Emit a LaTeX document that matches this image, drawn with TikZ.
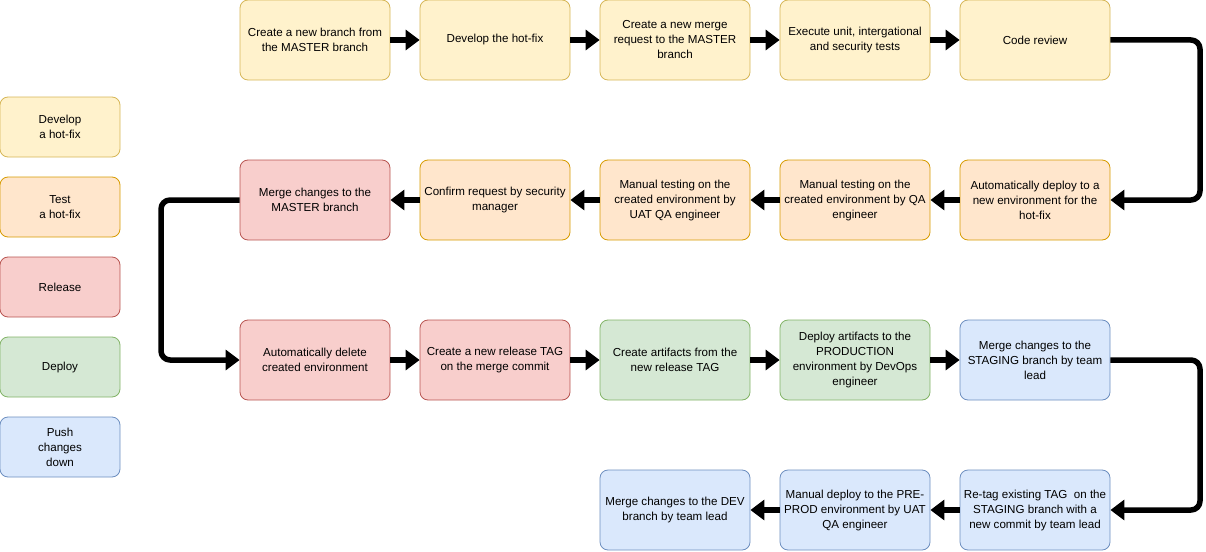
\documentclass[tikz,border=0pt]{standalone}
\usepackage{fontspec}
\setmainfont{Liberation Sans}
\usetikzlibrary{arrows.meta}
\definecolor{ylwF}{HTML}{FFF2CC}\definecolor{ylwD}{HTML}{D6B656}
\definecolor{orgF}{HTML}{FFE6CC}\definecolor{orgD}{HTML}{D79B00}
\definecolor{redF}{HTML}{F8CECC}\definecolor{redD}{HTML}{B85450}
\definecolor{grnF}{HTML}{D5E8D4}\definecolor{grnD}{HTML}{82B366}
\definecolor{bluF}{HTML}{DAE8FC}\definecolor{bluD}{HTML}{6C8EBF}
\begin{document}
\begin{tikzpicture}[x=1pt,y=-1pt,line join=round,
	box/.style={rounded corners=8pt,line width=0.8pt,minimum width=150pt,minimum height=80pt,
		inner sep=0pt,align=center,font=\fontsize{11.6}{15}\selectfont},
	leg/.style={box,minimum width=120pt,minimum height=60pt},
	ylw/.style={fill=ylwF,draw=ylwD}, org/.style={fill=orgF,draw=orgD},
	red/.style={fill=redF,draw=redD}, grn/.style={fill=grnF,draw=grnD},
	blu/.style={fill=bluF,draw=bluD},
	conn/.style={line width=5.5pt,rounded corners=9pt,-{Triangle[length=14pt,width=20pt]}}]
	\useasboundingbox (0,0) rectangle (1206,551);
	\def\rA{40} \def\rB{200} \def\rC{360} \def\rD{510}
	\def\turn{1200} \def\back{161}
	% legend
	\node[leg,ylw] (lg1) at (60,127) {Develop\\a hot-fix};
	\node[leg,org] (lg2) at (60,207) {Test\\a hot-fix};
	\node[leg,red] (lg3) at (60,287) {Release};
	\node[leg,grn] (lg4) at (60,367) {Deploy};
	\node[leg,blu] (lg5) at (60,447) {Push\\changes\\down};
	% row 1
	\node[box,ylw] (a1) at (315,\rA) {Create a new branch from\\the MASTER branch};
	\node[box,ylw] (a2) at (495,\rA) {Develop the hot-fix};
	\node[box,ylw] (a3) at (675,\rA) {Create a new merge\\request to the MASTER\\branch};
	\node[box,ylw] (a4) at (855,\rA) {Execute unit, intergational\\and security tests};
	\node[box,ylw] (a5) at (1035,\rA) {Code review};
	% row 2
	\node[box,org] (b1) at (1035,\rB) {Automatically deploy to a\\new environment for the\\hot-fix};
	\node[box,org] (b2) at (855,\rB) {Manual testing on the\\created environment by QA\\engineer};
	\node[box,org] (b3) at (675,\rB) {Manual testing on the\\created environment by\\UAT QA engineer};
	\node[box,org] (b4) at (495,\rB) {Confirm request by security\\manager};
	\node[box,red] (b5) at (315,\rB) {Merge changes to the\\MASTER branch};
	% row 3
	\node[box,red] (c1) at (315,\rC) {Automatically delete\\created environment};
	\node[box,red] (c2) at (495,\rC) {Create a new release TAG\\on the merge commit};
	\node[box,grn] (c3) at (675,\rC) {Create artifacts from the\\new release TAG};
	\node[box,grn] (c4) at (855,\rC) {Deploy artifacts to the\\PRODUCTION\\environment by DevOps\\engineer};
	\node[box,blu] (c5) at (1035,\rC) {Merge changes to the\\STAGING branch by team\\lead};
	% row 4
	\node[box,blu] (d1) at (1035,\rD) {Re-tag existing TAG~~on the\\STAGING branch with a\\new commit by team lead};
	\node[box,blu] (d2) at (855,\rD) {Manual deploy to the PRE-\\PROD environment by UAT\\QA engineer};
	\node[box,blu] (d3) at (675,\rD) {Merge changes to the DEV\\branch by team lead};
	% connectors
	\foreach \p/\q in {a1/a2,a2/a3,a3/a4,a4/a5,b1/b2,b2/b3,b3/b4,b4/b5,c1/c2,c2/c3,c3/c4,c4/c5,d1/d2,d2/d3}
	\draw[conn] (\p) -- (\q);
	\draw[conn] (a5.east) -- (\turn,\rA) -- (\turn,\rB) -- (b1.east);
	\draw[conn] (b5.west) -- (\back,\rB) -- (\back,\rC) -- (c1.west);
	\draw[conn] (c5.east) -- (\turn,\rC) -- (\turn,\rD) -- (d1.east);
\end{tikzpicture}
\end{document}
